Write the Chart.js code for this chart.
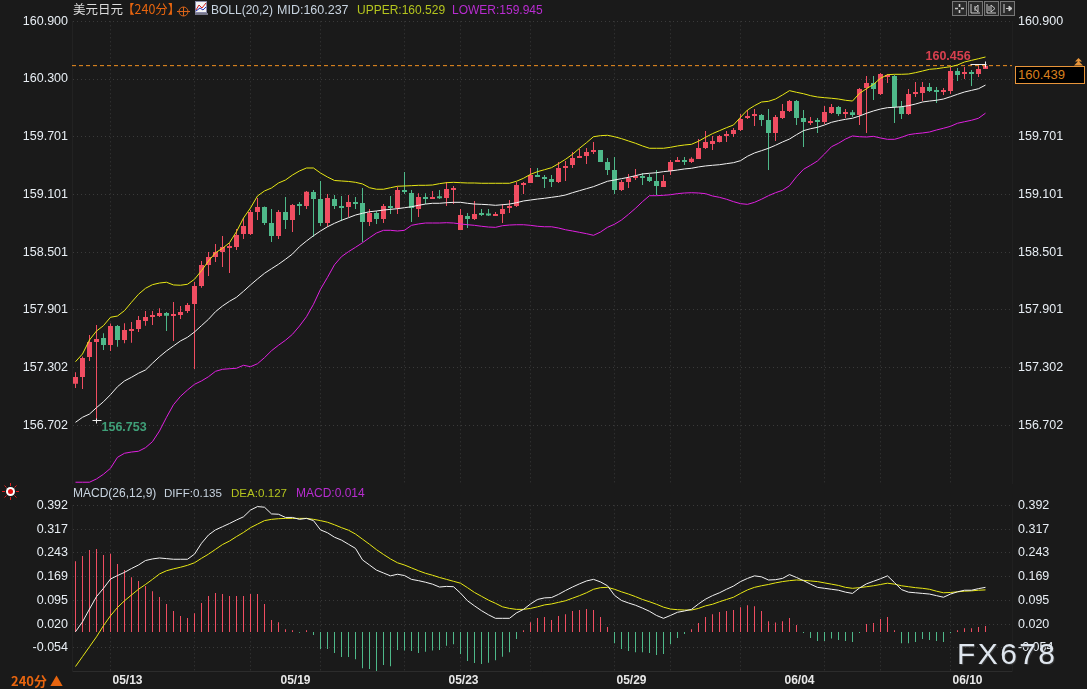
<!DOCTYPE html>
<html>
<head>
<meta charset="utf-8">
<title>美元日元 240分</title>
<script src="https://cdn.jsdelivr.net/npm/chart.js@4"></script>
<style>
html, body { margin: 0; padding: 0; background: #1a1a1a; }
#page { position: relative; width: 1087px; height: 689px; overflow: hidden; background: #1a1a1a;
    font-family: "Liberation Sans", Arial, sans-serif; }
canvas { position: absolute; left: 0; }
#chart-preco { top: 0; }
#chart-macd { top: 484px; }
.txt { position: absolute; white-space: nowrap; font-size: 12px; line-height: 16px; }
.icon { position: absolute; }
#box-preco { position: absolute; left: 1015px; top: 66px; width: 66px; height: 16px; background: #000;
    border: 1px solid #e8953a; color: #d9801f; font-size: 13px; line-height: 16px; padding-left: 2px; box-sizing: content-box; }
#marca { position: absolute; left: 957px; top: 636px; font-size: 30px; line-height: 36px; letter-spacing: 2.4px;
    color: #dfe6ee; text-shadow: 1px 1px 1px #3a3a3a; }
</style>
</head>
<body>
<div id="page">
    <canvas id="chart-preco" width="1087" height="484"></canvas>
    <canvas id="chart-macd" width="1087" height="205"></canvas>

    <div class="txt" style="left:73px;top:1px;color:#dcdcdc;font-size:12.5px;font-family:'Noto Sans CJK SC'">美元日元</div>
    <div class="txt" style="left:122px;top:1px;color:#e8650f;font-size:12.5px;font-family:'Noto Sans CJK SC'">【240分】</div>
    <svg class="icon" style="left:177px;top:5px" width="13" height="13" viewBox="0 0 13 13">
        <circle cx="6.5" cy="6.5" r="4.5" fill="none" stroke="#d9641a"/>
        <path d="M0 6.5H13M6.5 2V11" stroke="#d9641a" fill="none"/>
    </svg>
    <svg class="icon" style="left:195px;top:1px" width="13" height="14" viewBox="0 0 13 14">
        <rect x="0.5" y="0.5" width="11" height="11" fill="#f4f4f4" stroke="#8a8aa8"/>
        <path d="M1 9L4 4L7 7L11 2" stroke="#d02020" fill="none"/>
        <path d="M1 10L5 7L8 9L11 6" stroke="#2030c0" fill="none"/>
        <rect x="0" y="12" width="13" height="2" fill="#77778a"/>
    </svg>
    <div class="txt" style="left:211px;top:2px;color:#c8d4e0">BOLL(20,2)</div>
    <div class="txt" style="left:277px;top:2px;color:#c8d4e0;font-size:12.5px">MID:160.237</div>
    <div class="txt" style="left:357px;top:2px;color:#b4c41e">UPPER:160.529</div>
    <div class="txt" style="left:452px;top:2px;color:#b82cd0">LOWER:159.945</div>

    <div class="icon" style="left:952px;top:1px;width:13px;height:13px;border:1px solid #777;background:#2a2a2a"></div>
    <div class="icon" style="left:968px;top:1px;width:13px;height:13px;border:1px solid #777;background:#2a2a2a"></div>
    <div class="icon" style="left:984px;top:1px;width:13px;height:13px;border:1px solid #777;background:#2a2a2a"></div>
    <div class="icon" style="left:1000px;top:1px;width:13px;height:13px;border:1px solid #777;background:#2a2a2a"></div>
    <svg class="icon" style="left:952px;top:1px" width="62" height="15" viewBox="0 0 62 15">
        <path d="M7.5 3V6M7.5 9V12M3 7.5H6M9 7.5H12" stroke="#c8c8c8" fill="none" stroke-width="1.6"/>
        <path d="M19 3V12H28M23 5V10M26 4L23 7.5L26 11Z" stroke="#c8c8c8" fill="none"/>
        <path d="M35 3V12H44M37 5V10M39 4L43 7.5L39 11Z" stroke="#c8c8c8" fill="none"/>
        <path d="M52 3V12M54 7.5H60M57 5L60 7.5L57 10Z" stroke="#c8c8c8" fill="#c8c8c8"/>
    </svg>

    <div id="box-preco">160.439</div>
    <svg class="icon" style="left:1073px;top:58px" width="11" height="8" viewBox="0 0 11 8">
        <path d="M5.5 0L9 3.5H2ZM5.5 3L10 7.5H1Z" fill="#e8953a"/>
    </svg>

    <svg class="icon" style="left:2px;top:483px" width="17" height="17" viewBox="0 0 17 17">
        <path d="M8.5 0V3M8.5 14V17M0 8.5H3M14 8.5H17M2.5 2.5L4.5 4.5M12.5 12.5L14.5 14.5M2.5 14.5L4.5 12.5M12.5 4.5L14.5 2.5" stroke="#e02020" fill="none"/>
        <circle cx="8.5" cy="8.5" r="4.5" fill="#fff"/>
        <circle cx="8.5" cy="8.5" r="2.5" fill="#e01010"/>
    </svg>
    <div class="txt" style="left:73px;top:485px;color:#c8d4e0">MACD(26,12,9)</div>
    <div class="txt" style="left:164px;top:485px;color:#c8d4e0;font-size:11.6px">DIFF:0.135</div>
    <div class="txt" style="left:231px;top:485px;color:#b4c41e;font-size:11.6px">DEA:0.127</div>
    <div class="txt" style="left:296px;top:485px;color:#b82cd0">MACD:0.014</div>
    <div class="txt" style="left:11px;top:673px;color:#e8650f;font-weight:bold;font-size:13px;font-family:'Noto Sans CJK SC'">240分 ▲</div>
    <div id="marca">FX678</div>
</div>

<script>
// ===== 美元日元 240分 =====

const opens = [
    157.133, 157.202, 157.410, 157.566, 157.608, 157.535, 157.732, 157.587, 157.680, 157.701,
    157.784, 157.826, 157.836, 157.867, 157.836, 157.847, 157.888, 157.961, 158.148, 158.366,
    158.450, 158.502, 158.543, 158.554, 158.689, 158.689, 158.917, 158.969, 158.803, 158.668,
    158.917, 158.834, 159.001, 158.980, 159.125, 159.052, 158.803, 159.052, 158.980, 158.969,
    159.021, 159.011, 158.813, 158.907, 158.845, 158.980, 158.959, 159.146, 159.115, 158.949,
    159.074, 159.053, 159.074, 159.063, 159.146, 158.731, 158.876, 158.845, 158.897, 158.886,
    158.876, 158.897, 158.959, 158.980, 159.198, 159.219, 159.302, 159.281, 159.261, 159.230,
    159.375, 159.406, 159.479, 159.500, 159.541, 159.562, 159.437, 159.354, 159.146, 159.230,
    159.271, 159.292, 159.281, 159.240, 159.178, 159.344, 159.437, 159.444, 159.438, 159.469,
    159.583, 159.625, 159.646, 159.708, 159.729, 159.770, 159.895, 159.916, 159.926, 159.874,
    159.739, 159.895, 159.968, 160.072, 159.895, 159.843, 159.871, 159.854, 159.947, 160.010,
    159.937, 159.954, 159.926, 160.207, 160.259, 160.145, 160.321, 160.332, 160.010, 159.937,
    160.145, 160.155, 160.217, 160.176, 160.165, 160.176, 160.384, 160.353, 160.363, 160.353,
    160.405
];
const highs = [
    157.251, 157.414, 157.639, 157.743, 157.656, 157.757, 157.743, 157.760, 157.774, 157.836,
    157.888, 157.888, 157.916, 157.878, 157.982, 157.940, 157.971, 158.190, 158.408, 158.502,
    158.585, 158.668, 158.595, 158.741, 158.855, 158.938, 159.063, 158.975, 158.949, 158.938,
    159.073, 159.001, 159.021, 159.136, 159.146, 159.240, 159.104, 159.094, 159.084, 159.094,
    159.073, 159.167, 158.949, 158.928, 159.001, 159.084, 159.181, 159.333, 159.146, 159.112,
    159.112, 159.136, 159.146, 159.230, 159.188, 158.949, 158.907, 159.032, 158.949, 158.949,
    158.918, 159.001, 159.042, 159.230, 159.230, 159.375, 159.375, 159.302, 159.302, 159.437,
    159.448, 159.541, 159.573, 159.583, 159.645, 159.562, 159.479, 159.489, 159.250, 159.313,
    159.365, 159.323, 159.313, 159.354, 159.302, 159.458, 159.489, 159.489, 159.486, 159.677,
    159.760, 159.708, 159.718, 159.760, 159.791, 159.937, 159.978, 159.989, 159.937, 159.989,
    159.926, 160.041, 160.082, 160.082, 159.978, 159.906, 159.895, 160.020, 160.041, 160.020,
    159.989, 159.978, 160.207, 160.332, 160.332, 160.363, 160.353, 160.342, 160.072, 160.197,
    160.269, 160.269, 160.259, 160.217, 160.207, 160.425, 160.415, 160.425, 160.394, 160.436,
    160.456
];
const lows = [
    157.088, 157.077, 157.369, 156.753, 157.483, 157.472, 157.517, 157.552, 157.559, 157.670,
    157.736, 157.743, 157.826, 157.680, 157.576, 157.805, 157.867, 157.285, 158.131, 158.252,
    158.398, 158.346, 158.283, 158.522, 158.637, 158.678, 158.834, 158.782, 158.606, 158.637,
    158.741, 158.709, 158.886, 158.949, 158.661, 158.772, 158.765, 158.949, 158.824, 158.865,
    158.949, 158.606, 158.772, 158.793, 158.803, 158.897, 158.897, 159.105, 158.814, 158.866,
    159.001, 159.053, 159.053, 158.980, 159.001, 158.731, 158.751, 158.834, 158.876, 158.876,
    158.876, 158.803, 158.907, 158.970, 159.105, 159.219, 159.281, 159.167, 159.178, 159.219,
    159.240, 159.375, 159.479, 159.417, 159.521, 159.437, 159.302, 159.105, 159.136, 159.167,
    159.250, 159.198, 159.230, 159.094, 159.178, 159.302, 159.437, 159.406, 159.427, 159.469,
    159.573, 159.563, 159.639, 159.646, 159.698, 159.760, 159.885, 159.812, 159.812, 159.355,
    159.656, 159.885, 159.958, 159.822, 159.594, 159.822, 159.739, 159.833, 159.937, 159.916,
    159.895, 159.906, 159.822, 159.739, 160.082, 160.134, 160.259, 159.843, 159.885, 159.926,
    160.113, 160.072, 160.165, 160.051, 160.134, 160.145, 160.280, 160.301, 160.228, 160.321,
    160.405
];
const closes = [
    157.202, 157.400, 157.566, 157.597, 157.535, 157.732, 157.587, 157.691, 157.701, 157.795,
    157.826, 157.836, 157.867, 157.840, 157.847, 157.878, 157.951, 158.148, 158.366, 158.450,
    158.502, 158.554, 158.554, 158.678, 158.772, 158.917, 158.969, 158.803, 158.668, 158.917,
    158.834, 158.990, 158.980, 159.129, 159.052, 158.803, 159.063, 158.980, 158.959, 159.021,
    159.001, 158.813, 158.907, 158.845, 158.980, 158.959, 159.146, 159.126, 158.959, 159.074,
    159.053, 159.074, 159.060, 159.157, 159.167, 158.886, 158.845, 158.897, 158.886, 158.880,
    158.897, 158.949, 158.980, 159.198, 159.209, 159.302, 159.281, 159.261, 159.230, 159.375,
    159.396, 159.479, 159.500, 159.541, 159.562, 159.437, 159.354, 159.146, 159.230, 159.271,
    159.281, 159.271, 159.240, 159.188, 159.240, 159.437, 159.444, 159.437, 159.472, 159.583,
    159.646, 159.656, 159.708, 159.729, 159.770, 159.885, 159.916, 159.926, 159.874, 159.739,
    159.906, 159.968, 160.072, 159.895, 159.854, 159.864, 159.854, 159.958, 160.010, 159.937,
    159.958, 159.926, 160.197, 160.259, 160.197, 160.353, 160.332, 160.010, 159.937, 160.145,
    160.155, 160.217, 160.176, 160.165, 160.176, 160.384, 160.342, 160.363, 160.353, 160.405,
    160.439
];

const bollUpper = [
    157.361, 157.441, 157.587, 157.680, 157.736, 157.823, 157.836, 157.892, 157.979, 158.062,
    158.124, 158.162, 158.179, 158.187, 158.159, 158.156, 158.166, 158.218, 158.307, 158.408,
    158.494, 158.540, 158.598, 158.713, 158.855, 158.959, 159.084, 159.136, 159.167, 159.219,
    159.250, 159.302, 159.344, 159.375, 159.375, 159.323, 159.281, 159.245, 159.240, 159.235,
    159.226, 159.209, 159.170, 159.154, 159.154, 159.170, 159.185, 159.188, 159.191, 159.195,
    159.195, 159.198, 159.212, 159.222, 159.226, 159.222, 159.219, 159.219, 159.216, 159.216,
    159.216, 159.216, 159.216, 159.237, 159.268, 159.309, 159.337, 159.357, 159.378, 159.420,
    159.465, 159.517, 159.580, 159.638, 159.700, 159.711, 159.715, 159.700, 159.680, 159.656,
    159.632, 159.604, 159.580, 159.580, 159.580, 159.590, 159.604, 159.614, 159.621, 159.653,
    159.694, 159.732, 159.763, 159.794, 159.822, 159.902, 159.978, 160.023, 160.061, 160.068,
    160.092, 160.134, 160.179, 160.162, 160.147, 160.127, 160.113, 160.106, 160.100, 160.092,
    160.079, 160.071, 160.151, 160.199, 160.245, 160.307, 160.345, 160.349, 160.349, 160.352,
    160.366, 160.383, 160.401, 160.407, 160.418, 160.428, 160.446, 160.477, 160.494, 160.511,
    160.529
];
const bollMid = [
    156.731, 156.783, 156.817, 156.883, 156.945, 157.018, 157.101, 157.161, 157.199, 157.241,
    157.275, 157.345, 157.413, 157.473, 157.525, 157.577, 157.615, 157.670, 157.736, 157.802,
    157.881, 157.940, 157.989, 158.031, 158.093, 158.159, 158.221, 158.280, 158.328, 158.374,
    158.426, 158.481, 158.557, 158.616, 158.671, 158.720, 158.764, 158.800, 158.831, 158.858,
    158.886, 158.904, 158.920, 158.928, 158.938, 158.945, 158.952, 158.962, 158.972, 158.987,
    159.000, 159.008, 159.008, 159.014, 159.018, 159.018, 159.008, 159.000, 158.997, 158.993,
    158.987, 158.993, 159.000, 159.014, 159.032, 159.042, 159.052, 159.060, 159.070, 159.080,
    159.094, 159.118, 159.139, 159.160, 159.181, 159.209, 159.237, 159.250, 159.264, 159.278,
    159.295, 159.313, 159.320, 159.326, 159.337, 159.344, 159.354, 159.365, 159.372, 159.386,
    159.396, 159.403, 159.409, 159.420, 159.430, 159.451, 159.497, 159.531, 159.555, 159.580,
    159.611, 159.645, 159.676, 159.721, 159.763, 159.783, 159.798, 159.822, 159.850, 159.867,
    159.881, 159.892, 159.915, 159.944, 159.968, 159.988, 160.002, 160.006, 160.012, 160.023,
    160.040, 160.061, 160.071, 160.079, 160.092, 160.116, 160.141, 160.165, 160.182, 160.199,
    160.237
];
const bollLower = [
    156.108, 156.108, 156.108, 156.142, 156.191, 156.253, 156.367, 156.409, 156.422, 156.430,
    156.467, 156.530, 156.641, 156.783, 156.914, 157.001, 157.067, 157.126, 157.161, 157.205,
    157.261, 157.282, 157.288, 157.293, 157.324, 157.309, 157.340, 157.403, 157.475, 157.532,
    157.584, 157.646, 157.732, 157.829, 157.958, 158.114, 158.238, 158.369, 158.453, 158.505,
    158.550, 158.598, 158.650, 158.699, 158.727, 158.727, 158.720, 158.727, 158.779, 158.793,
    158.803, 158.803, 158.803, 158.806, 158.803, 158.793, 158.785, 158.779, 158.769, 158.761,
    158.758, 158.775, 158.782, 158.785, 158.785, 158.779, 158.769, 158.764, 158.764, 158.751,
    158.733, 158.720, 158.706, 158.692, 158.675, 158.709, 158.758, 158.790, 158.834, 158.893,
    158.956, 159.025, 159.087, 159.087, 159.091, 159.097, 159.108, 159.115, 159.118, 159.115,
    159.108, 159.084, 159.070, 159.050, 159.025, 159.004, 158.997, 159.018, 159.050, 159.087,
    159.118, 159.143, 159.191, 159.284, 159.361, 159.403, 159.448, 159.520, 159.596, 159.632,
    159.676, 159.708, 159.700, 159.697, 159.704, 159.687, 159.673, 159.673, 159.694, 159.721,
    159.732, 159.739, 159.749, 159.770, 159.788, 159.808, 159.840, 159.856, 159.871, 159.892,
    159.945
];

const diff = [
    -0.004, 0.027, 0.067, 0.106, 0.132, 0.161, 0.172, 0.182, 0.194, 0.205,
    0.219, 0.224, 0.227, 0.225, 0.223, 0.223, 0.223, 0.239, 0.273, 0.299,
    0.315, 0.325, 0.335, 0.346, 0.356, 0.377, 0.388, 0.386, 0.365, 0.364,
    0.354, 0.354, 0.348, 0.351, 0.344, 0.315, 0.306, 0.292, 0.283, 0.270,
    0.257, 0.221, 0.205, 0.189, 0.180, 0.171, 0.176, 0.172, 0.160, 0.156,
    0.151, 0.145, 0.136, 0.138, 0.137, 0.117, 0.093, 0.077, 0.062, 0.049,
    0.038, 0.038, 0.038, 0.055, 0.066, 0.083, 0.097, 0.102, 0.103, 0.113,
    0.125, 0.136, 0.146, 0.155, 0.160, 0.152, 0.140, 0.110, 0.094, 0.086,
    0.079, 0.070, 0.060, 0.047, 0.038, 0.047, 0.057, 0.061, 0.066, 0.083,
    0.098, 0.109, 0.118, 0.129, 0.139, 0.153, 0.163, 0.171, 0.168, 0.158,
    0.159, 0.163, 0.175, 0.166, 0.156, 0.145, 0.135, 0.132, 0.129, 0.126,
    0.120, 0.116, 0.133, 0.146, 0.154, 0.162, 0.171, 0.150, 0.128, 0.120,
    0.118, 0.116, 0.114, 0.109, 0.104, 0.114, 0.121, 0.126, 0.126, 0.131,
    0.135
];
const dea = [
    -0.113, -0.082, -0.051, -0.020, 0.015, 0.046, 0.072, 0.093, 0.111, 0.129,
    0.144, 0.160, 0.177, 0.187, 0.193, 0.198, 0.204, 0.212, 0.226, 0.239,
    0.254, 0.269, 0.280, 0.294, 0.307, 0.322, 0.333, 0.344, 0.348, 0.350,
    0.351, 0.351, 0.351, 0.351, 0.348, 0.344, 0.339, 0.331, 0.322, 0.314,
    0.302, 0.286, 0.270, 0.253, 0.238, 0.224, 0.212, 0.205, 0.196, 0.187,
    0.179, 0.173, 0.166, 0.160, 0.154, 0.148, 0.134, 0.119, 0.107, 0.095,
    0.085, 0.074, 0.069, 0.066, 0.066, 0.069, 0.074, 0.080, 0.083, 0.088,
    0.093, 0.101, 0.109, 0.118, 0.129, 0.134, 0.135, 0.129, 0.121, 0.114,
    0.106, 0.097, 0.090, 0.082, 0.073, 0.067, 0.065, 0.064, 0.064, 0.069,
    0.077, 0.082, 0.090, 0.097, 0.104, 0.116, 0.127, 0.135, 0.140, 0.144,
    0.149, 0.153, 0.156, 0.158, 0.157, 0.155, 0.153, 0.149, 0.145, 0.141,
    0.135, 0.132, 0.134, 0.137, 0.140, 0.144, 0.148, 0.145, 0.140, 0.137,
    0.134, 0.132, 0.129, 0.123, 0.118, 0.119, 0.121, 0.123, 0.124, 0.126,
    0.127
];
const macdHist = [
    0.217, 0.233, 0.252, 0.255, 0.236, 0.240, 0.208, 0.189, 0.167, 0.155,
    0.139, 0.123, 0.105, 0.083, 0.061, 0.045, 0.039, 0.054, 0.086, 0.108,
    0.117, 0.114, 0.108, 0.108, 0.108, 0.114, 0.114, 0.083, 0.033, 0.026,
    0.004, 0.001, -0.007, 0.001, -0.014, -0.058, -0.058, -0.071, -0.083, -0.083,
    -0.090, -0.118, -0.121, -0.127, -0.108, -0.112, -0.061, -0.063, -0.064, -0.071,
    -0.067, -0.063, -0.061, -0.048, -0.043, -0.074, -0.096, -0.102, -0.105, -0.101,
    -0.093, -0.082, -0.068, -0.027, 0.001, 0.026, 0.039, 0.042, 0.033, 0.045,
    0.051, 0.061, 0.064, 0.067, 0.064, 0.042, 0.011, -0.040, -0.058, -0.064,
    -0.068, -0.068, -0.071, -0.077, -0.074, -0.043, -0.024, -0.011, 0.004, 0.023,
    0.042, 0.051, 0.058, 0.061, 0.064, 0.073, 0.079, 0.076, 0.061, 0.029,
    0.025, 0.029, 0.039, 0.017, -0.008, -0.024, -0.033, -0.033, -0.025, -0.030,
    -0.033, -0.036, -0.008, 0.020, 0.023, 0.036, 0.042, 0.001, -0.040, -0.040,
    -0.036, -0.027, -0.030, -0.033, -0.036, -0.008, 0.001, 0.007, 0.007, 0.011,
    0.014
];

const precoTicks = [160.900, 160.300, 159.701, 159.101, 158.501, 157.901, 157.302, 156.702];
const macdTicks = [0.392, 0.317, 0.243, 0.169, 0.095, 0.020, -0.054];

// bar index of the session grid lines and of the date labels
const gradeIdx = [5, 17, 25, 35, 47, 55, 65, 77, 85, 95, 107, 115, 125];
const dataIdx = [5, 29, 53, 77, 101, 125];
const dataLabels = ['05/13', '05/19', '05/23', '05/29', '06/04', '06/10'];

const ultimoPreco = 160.439;
const precoMax = 160.456;
const precoMin = 156.753;
const histBase = -0.005;

const VERMELHO = '#f04e62';
const VERDE = '#4fb98a';
const GRADE = '#3a3a3a';
const EIXO_X = { min: -0.5, max: 133.786 };

const pontos = arr => arr.map((y, x) => ({ x, y }));
const corCandle = opens.map((o, i) => (closes[i] >= o ? VERMELHO : VERDE));

function eixoX(comLabels) {
    return {
        type: 'linear',
        min: EIXO_X.min,
        max: EIXO_X.max,
        offset: false,
        afterBuildTicks(scale) {
            const todos = [...new Set([...gradeIdx, ...dataIdx])].sort((a, b) => a - b);
            scale.ticks = todos.map(value => ({ value }));
        },
        afterFit(scale) {
            scale.height = comLabels ? 18 : 0;
        },
        grid: {
            offset: false,
            drawTicks: false,
            color: ctx => (ctx.tick && gradeIdx.includes(ctx.tick.value) ? GRADE : 'transparent')
        },
        border: { display: comLabels, color: '#2c2c2c', dash: [1, 3] },
        ticks: {
            display: comLabels,
            autoSkip: false,
            maxRotation: 0,
            align: 'start',
            labelOffset: 2,
            padding: 2,
            color: '#e8e8e8',
            font: { family: 'Liberation Sans', size: 12, weight: 'bold' },
            callback: v => (dataIdx.includes(v) ? dataLabels[dataIdx.indexOf(v)] : '')
        }
    };
}

function eixosY(ticks, min, max) {
    const setTicks = scale => { scale.ticks = ticks.map(value => ({ value })); };
    const fonte = { family: 'Liberation Sans', size: 12.5 };
    // the tick labels must not take room away from the plot height
    const ajusta = (scale, largura) => {
        scale.width = largura;
        scale.paddingTop = 0;
        scale.paddingBottom = 0;
    };
    return {
        y: {
            position: 'left',
            min,
            max,
            afterBuildTicks: setTicks,
            afterFit(scale) { ajusta(scale, 72); },
            grid: { color: GRADE, drawTicks: false },
            border: { color: '#222222', dash: [1, 3] },
            ticks: { autoSkip: false, padding: 4, color: '#e8eef4', font: fonte, callback: v => v.toFixed(3) }
        },
        yDir: {
            position: 'right',
            min,
            max,
            afterBuildTicks: setTicks,
            afterFit(scale) { ajusta(scale, 75); },
            grid: { display: false, drawTicks: false },
            border: { color: '#202020' },
            ticks: { autoSkip: false, padding: 6, color: '#e8eef4', font: fonte, callback: v => v.toFixed(3) }
        }
    };
}

const opcoesBase = {
    responsive: false,
    animation: false,
    devicePixelRatio: 1,
    plugins: { legend: { display: false }, tooltip: { enabled: false } }
};

// Highest and lowest price markers
const marcadores = {
    id: 'marcadores',
    afterDatasetsDraw(chart) {
        const { ctx, scales } = chart;
        const px = scales.x.getPixelForValue(3);
        const py = Math.round(scales.y.getPixelForValue(precoMin)) + 0.5;
        const qx = scales.x.getPixelForValue(130);
        const qy = Math.round(scales.y.getPixelForValue(precoMax)) + 0.5;
        ctx.save();
        ctx.strokeStyle = '#f0f0f0';
        ctx.lineWidth = 1;
        ctx.beginPath();
        ctx.moveTo(px - 4, py);
        ctx.lineTo(px + 5, py);
        ctx.moveTo(px, py - 2);
        ctx.lineTo(px, py + 3);
        ctx.moveTo(qx - 15, qy);
        ctx.lineTo(qx + 1, qy);
        ctx.moveTo(qx, qy - 3);
        ctx.lineTo(qx, qy + 3);
        ctx.stroke();
        ctx.font = 'bold 12.5px "Liberation Sans"';
        ctx.textBaseline = 'middle';
        ctx.fillStyle = '#3f9f78';
        ctx.fillText(precoMin.toFixed(3), px + 5, py + 7);
        ctx.fillStyle = '#d8404f';
        ctx.fillText(precoMax.toFixed(3), qx - 60, qy - 8);
        ctx.restore();
    }
};

const linha = (data, cor, extra) => Object.assign({
    type: 'line',
    data: pontos(data),
    borderColor: cor,
    borderWidth: 1,
    pointRadius: 0,
    tension: 0,
    order: 0
}, extra);

// inflateAmount 0 keeps the 1px wicks and histogram bars from being widened
const barra = (data, cor, largura, extra) => Object.assign({
    type: 'bar',
    data,
    backgroundColor: cor,
    grouped: false,
    barPercentage: 1,
    categoryPercentage: 1,
    maxBarThickness: largura,
    inflateAmount: 0,
    order: 1
}, extra);

new Chart(document.getElementById('chart-preco'), {
    type: 'bar',
    data: {
        datasets: [
            linha(bollMid, '#f2f2f2'),
            linha(bollUpper, '#e8e815'),
            linha(bollLower, '#e020e0'),
            {
                type: 'line',
                data: [{ x: EIXO_X.min, y: ultimoPreco }, { x: EIXO_X.max, y: ultimoPreco }],
                borderColor: '#f09020',
                borderWidth: 1,
                borderDash: [4, 3],
                pointRadius: 0,
                order: 0
            },
            barra(lows.map((l, x) => ({ x, y: [l, highs[x]] })), corCandle, 1, { minBarLength: 1 }),
            barra(opens.map((o, x) => ({ x, y: [o, closes[x]] })), corCandle, 5, { minBarLength: 2 })
        ]
    },
    options: {
        ...opcoesBase,
        layout: { padding: { top: 21.3, bottom: 1, left: 0, right: 0 } },
        scales: { x: eixoX(false), ...eixosY(precoTicks, 156.1, 160.9) }
    },
    plugins: [marcadores]
});

new Chart(document.getElementById('chart-macd'), {
    type: 'bar',
    data: {
        datasets: [
            linha(diff, '#f2f2f2'),
            linha(dea, '#e8e815'),
            barra(macdHist.map((v, x) => ({ x, y: v })), macdHist.map(v => (v >= histBase ? VERMELHO : VERDE)), 1, { base: histBase })
        ]
    },
    options: {
        ...opcoesBase,
        layout: { padding: { top: 21.3, bottom: 0, left: 0, right: 0 } },
        scales: { x: eixoX(true), ...eixosY(macdTicks, -0.127, 0.392) }
    }
});
</script>
</body>
</html>
